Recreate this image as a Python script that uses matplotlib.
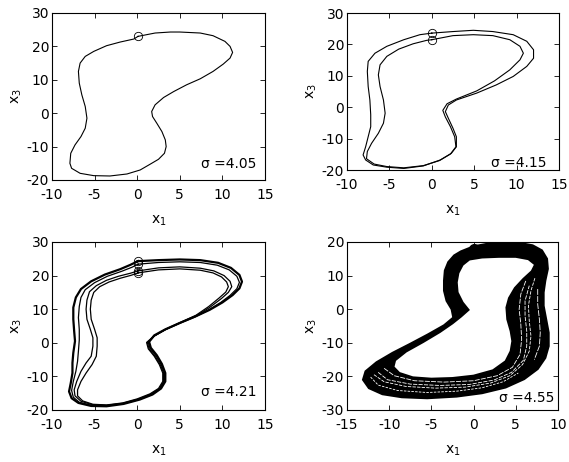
import numpy as np
import matplotlib as mpl
mpl.use('Agg')
import matplotlib.pyplot as plt
from matplotlib.path import Path
from matplotlib.patches import PathPatch

# sigma of the four runs
sigma_values = ['4.05', '4.15', '4.21', '4.55']

# closed orbits in the (x1, x3) plane, clockwise, first point = start marker
orbit_405 = np.array([
    (0.1, 23.0), (2.1, 24.0), (3.9, 24.3), (5.0, 24.3), (7.4, 24.0), (8.9, 23.2), (10.3, 21.5), (10.9, 20.0),
    (11.2, 18.2), (10.9, 16.5), (10.1, 14.7), (8.9, 12.5), (7.4, 10.3), (5.8, 8.5), (4.3, 6.5), (3.1, 4.7),
    (2.1, 2.5), (1.7, 0.5), (1.8, -1.0), (2.3, -3.0), (2.9, -5.5), (3.3, -8.0), (3.4, -10.0), (3.2, -12.0),
    (2.5, -13.8), (1.5, -15.3), (0.35, -17.0), (-1.2, -18.2), (-3.2, -18.8), (-5.1, -18.7), (-6.7, -18.0),
    (-7.7, -16.5), (-7.9, -15.0), (-7.8, -12.0), (-7.3, -9.5), (-6.6, -7.0), (-6.1, -4.5), (-5.9, -1.5),
    (-6.1, 2.0), (-6.5, 5.5), (-6.8, 9.0), (-6.9, 12.5), (-6.7, 15.0), (-6.1, 17.0), (-5.1, 18.5),
    (-3.6, 20.2), (-2.0, 21.3), (-0.4, 22.2), (0.1, 23.0)])

orbit_415_outer = np.array([
    (0.0, 23.6), (2.5, 24.1), (4.9, 24.5), (7.2, 24.1), (9.6, 23.1), (11.2, 21.0), (12.0, 18.3), (12.0, 15.6),
    (11.2, 13.0), (9.6, 9.8), (7.6, 7.1), (5.3, 4.5), (2.9, 2.3), (1.95, 0.7), (1.6, -1.4), (1.95, -3.5),
    (2.5, -6.7), (2.9, -9.4), (2.9, -12.6), (2.3, -14.7), (1.0, -16.8), (-1.0, -18.7), (-3.3, -19.5),
    (-5.3, -19.1), (-6.9, -18.4), (-7.8, -16.8), (-8.1, -15.2), (-7.8, -12.6), (-7.5, -9.4), (-7.2, -6.2),
    (-7.2, -2.4), (-7.3, 2.3), (-7.5, 6.6), (-7.6, 11.4), (-7.5, 14.6), (-6.7, 17.2), (-5.3, 19.4),
    (-3.3, 21.5), (-1.4, 23.1), (0.0, 23.6)])

orbit_415_inner = np.array([
    (0.0, 21.5), (2.5, 22.8), (4.9, 23.1), (7.2, 22.8), (9.2, 21.5), (10.4, 19.4), (10.8, 17.2), (10.4, 15.1),
    (9.2, 11.9), (7.4, 8.4), (5.3, 5.2), (2.9, 2.6), (1.8, 1.1), (1.3, -1.0), (1.6, -3.1), (2.2, -6.2),
    (2.7, -9.4), (2.85, -12.6), (2.2, -14.9), (0.9, -17.0), (-1.0, -18.6), (-3.3, -19.3), (-5.3, -18.9),
    (-6.8, -18.1), (-7.7, -16.4), (-7.6, -14.1), (-7.1, -11.5), (-6.3, -8.3), (-5.7, -5.1), (-5.5, -1.9),
    (-5.7, 2.3), (-6.1, 6.6), (-6.3, 10.3), (-6.1, 13.5), (-5.3, 16.2), (-3.9, 18.5), (-2.2, 20.2),
    (-0.6, 21.3), (0.0, 21.5)])

orbit_421_a = np.array([
    (0.1, 24.3), (2.5, 24.6), (5.0, 24.8), (7.4, 24.6), (9.5, 23.8), (11.0, 22.3), (12.0, 20.2), (12.3, 18.2),
    (12.0, 16.2), (11.2, 14.2), (10.0, 12.0), (8.5, 9.8), (6.8, 7.8), (5.0, 5.9), (3.3, 4.0), (2.0, 2.2),
    (1.4, 0.3), (1.6, -1.5), (2.3, -3.7), (2.9, -6.3), (3.3, -9.0), (3.3, -11.5), (2.8, -13.6), (1.8, -15.4),
    (0.3, -16.9), (-1.6, -18.2), (-3.6, -18.9), (-5.4, -18.8), (-6.9, -17.9), (-7.7, -16.5), (-8.0, -14.5),
    (-7.8, -12.0), (-7.6, -9.0), (-7.6, -6.0), (-7.5, -3.0), (-7.3, 0.5), (-7.4, 3.5), (-7.5, 7.0),
    (-7.5, 10.5), (-7.2, 13.5), (-6.6, 16.0), (-5.4, 18.3), (-3.8, 20.3), (-2.0, 21.9), (-0.8, 23.2),
    (0.1, 24.3)])

orbit_421_b = np.array([
    (0.1, 23.4), (2.5, 23.9), (5.0, 24.1), (7.4, 23.9), (9.4, 23.1), (10.8, 21.7), (11.7, 19.8), (12.0, 18.0),
    (11.7, 16.1), (10.9, 14.1), (9.8, 12.0), (8.4, 9.8), (6.8, 7.7), (5.0, 5.8), (3.3, 3.9), (2.0, 2.0),
    (1.3, 0.1), (1.5, -1.6), (2.2, -3.8), (2.8, -6.4), (3.2, -9.0), (3.2, -11.5), (2.7, -13.6), (1.7, -15.4),
    (0.2, -16.9), (-1.6, -18.1), (-3.6, -18.7), (-5.4, -18.6), (-6.8, -17.7), (-7.5, -16.2), (-7.7, -14.2),
    (-7.5, -11.5), (-7.2, -8.5), (-7.0, -5.5), (-6.9, -2.5), (-6.8, 0.8), (-6.8, 4.0), (-6.9, 7.5),
    (-6.8, 10.8), (-6.6, 13.5), (-6.1, 15.8), (-5.0, 17.9), (-3.5, 19.8), (-1.8, 21.3), (-0.6, 22.5),
    (0.1, 23.4)])

orbit_421_c = np.array([
    (0.1, 21.4), (2.5, 22.3), (5.0, 22.6), (7.4, 22.2), (9.0, 21.4), (10.2, 20.0), (10.9, 18.3), (11.1, 16.7),
    (10.7, 15.0), (9.9, 13.2), (8.5, 10.5), (6.9, 8.0), (5.0, 5.9), (3.3, 3.9), (2.0, 2.0), (1.2, 0.0),
    (1.4, -1.8), (2.1, -4.0), (2.7, -6.5), (3.1, -9.0), (3.1, -11.5), (2.6, -13.6), (1.6, -15.3), (0.1, -16.8),
    (-1.7, -18.0), (-3.6, -18.6), (-5.3, -18.4), (-6.6, -17.4), (-7.3, -15.8), (-7.4, -14.0), (-7.1, -11.5),
    (-6.6, -8.5), (-6.0, -6.0), (-5.4, -4.0), (-5.2, -1.0), (-5.2, 1.5), (-5.5, 4.0), (-5.9, 7.0),
    (-6.0, 10.0), (-5.9, 12.7), (-5.6, 15.2), (-4.8, 17.0), (-3.6, 18.6), (-2.2, 19.8), (-0.8, 20.7),
    (0.1, 21.4)])

orbit_421_d = np.array([
    (0.1, 20.8), (2.5, 21.7), (5.0, 22.0), (7.4, 21.6), (8.9, 20.8), (9.9, 19.6), (10.5, 18.1), (10.7, 16.7),
    (10.4, 15.1), (9.6, 13.3), (8.4, 10.8), (6.9, 8.2), (5.0, 6.0), (3.3, 4.0), (2.0, 2.1), (1.1, 0.1),
    (1.3, -1.8), (2.0, -4.0), (2.6, -6.5), (3.0, -9.0), (3.0, -11.5), (2.5, -13.6), (1.5, -15.2), (0.0, -16.7),
    (-1.7, -17.9), (-3.6, -18.5), (-5.2, -18.3), (-6.4, -17.3), (-7.0, -15.8), (-7.0, -14.0), (-6.6, -11.5),
    (-6.0, -9.0), (-5.3, -6.5), (-4.8, -4.0), (-4.7, -1.0), (-4.7, 1.5), (-5.0, 4.0), (-5.4, 7.0),
    (-5.5, 10.0), (-5.4, 12.7), (-5.1, 15.0), (-4.4, 16.7), (-3.3, 18.1), (-2.0, 19.2), (-0.7, 20.1),
    (0.1, 20.8)])

# sigma = 4.55: outer and inner edge of the chaotic band, plus the thin gaps inside it
band_455_outer = np.array([
    (-1.5, 17.2), (0.0, 18.7), (1.5, 19.4), (3.5, 19.8), (5.5, 19.7), (7.0, 19.0), (8.1, 17.5), (8.7, 15.0),
    (8.8, 12.0), (8.5, 8.5), (8.3, 5.0), (8.3, 1.0), (8.6, -3.0), (8.9, -7.0), (8.9, -11.0), (8.5, -14.5),
    (7.6, -17.8), (6.0, -20.8), (3.8, -23.3), (1.0, -25.0), (-2.0, -26.0), (-5.5, -26.5), (-8.5, -26.2),
    (-10.8, -25.3), (-12.4, -23.5), (-13.1, -21.0), (-12.8, -18.5), (-11.5, -15.8), (-9.6, -13.0),
    (-7.5, -10.3), (-5.4, -7.5), (-3.5, -4.8), (-2.4, -2.5), (-2.6, 0.0), (-3.2, 2.5), (-3.5, 5.5),
    (-3.5, 8.5), (-3.4, 11.5), (-3.0, 14.0), (-2.3, 16.0), (-1.5, 17.2)])

band_455_inner = np.array([
    (-0.5, 14.8), (1.0, 15.4), (3.0, 15.6), (5.0, 15.6), (6.5, 14.9), (7.3, 13.3), (6.9, 11.3), (5.9, 9.0),
    (4.9, 6.3), (4.2, 3.3), (3.9, 0.5), (4.0, -3.0), (4.4, -6.5), (4.6, -9.5), (4.4, -12.5), (3.8, -15.5),
    (2.3, -18.2), (0.0, -19.8), (-2.5, -20.5), (-5.0, -20.7), (-7.2, -20.3), (-8.8, -19.0), (-9.5, -17.2),
    (-9.3, -15.2), (-8.0, -12.6), (-6.0, -9.8), (-4.0, -6.8), (-2.5, -4.2), (-1.5, -2.2), (-0.6, -0.2),
    (-1.3, 2.0), (-1.9, 5.0), (-2.0, 8.0), (-1.8, 10.8), (-1.3, 13.2), (-0.5, 14.8)])

gaps_455 = [
    np.array([(-12.2, -20.2), (-11.3, -22.6), (-9.0, -24.2), (-5.5, -24.8), (-2.0, -24.4), (1.0, -23.4),
              (3.5, -21.6), (5.3, -19.0)]),
    np.array([(-11.8, -19.5), (-10.6, -21.6), (-8.0, -23.0), (-4.5, -23.5), (-1.0, -23.2), (2.0, -22.0),
              (4.3, -19.8), (5.8, -16.5), (6.6, -12.5), (6.8, -8.0), (6.6, -3.5), (6.5, 1.0), (6.8, 5.5),
              (7.3, 9.5)]),
    np.array([(-11.3, -18.8), (-10.2, -21.0), (-7.5, -22.3), (-4.0, -22.7), (-0.5, -22.4), (2.4, -21.1),
              (4.5, -18.8), (5.9, -15.2), (6.3, -11.0), (6.3, -6.5), (6.1, -2.0), (6.1, 2.5), (6.6, 7.0)]),
    np.array([(-10.6, -17.6), (-9.4, -19.8), (-7.0, -21.3), (-3.5, -21.7), (0.0, -21.3), (2.8, -19.8),
              (4.6, -17.3), (5.5, -13.5), (5.7, -9.0), (5.6, -4.5), (5.4, 0.0), (5.6, 4.5), (6.2, 8.5)]),
    np.array([(7.6, 6.0), (7.6, 1.5), (7.8, -3.0), (7.9, -7.0), (7.8, -11.0), (7.2, -15.0)]),
]
start_455 = np.array([(0.0, 17.0), (0.0, 18.0)])


def SetMPLproperties():
    mpl.rcParams['font.family'] = ['DejaVu Sans']
    mpl.rcParams['font.size'] = 10
    mpl.rcParams['axes.unicode_minus'] = False
    mpl.rcParams['axes.linewidth'] = 0.8
    for ax in ['xtick', 'ytick']:
        mpl.rcParams[ax + '.direction'] = 'in'
        mpl.rcParams[ax + '.major.size'] = 3.5
        mpl.rcParams[ax + '.major.width'] = 0.6
    mpl.rcParams['xtick.top'] = True
    mpl.rcParams['ytick.right'] = True
    mpl.rcParams['xtick.major.pad'] = 6
    mpl.rcParams['ytick.major.pad'] = 2


def FormatAxes(ax, xlim, ylim, sigma, text_pos):
    ax.set_xlim(xlim)
    ax.set_ylim(ylim)
    ax.set_xticks(np.arange(xlim[0], xlim[1] + 1, 5))
    ax.set_yticks(np.arange(ylim[0], ylim[1] + 1, 10))
    ax.set_xlabel(r'$\mathregular{x_1}$', labelpad=8)
    ax.set_ylabel(r'$\mathregular{x_3}$', labelpad=2)
    ax.text(text_pos[0], text_pos[1], '\u03c3 =' + sigma, transform=ax.transAxes,
            va='baseline', ha='left', fontsize=10)


def PlotOrbits(ax, orbits, widths):
    for orb, lw in zip(orbits, widths):
        ax.plot(orb[:, 0], orb[:, 1], color='k', linewidth=lw)
        ax.plot(orb[0, 0], orb[0, 1], 'o', markersize=6, markerfacecolor='none',
                markeredgecolor='k', markeredgewidth=0.6)


SetMPLproperties()
fig = plt.figure(figsize=(5.69, 4.62), dpi=100)
ax1 = fig.add_axes([0.0914, 0.6104, 0.3743, 0.3615])
ax2 = fig.add_axes([0.6098, 0.6320, 0.3726, 0.3398])
ax3 = fig.add_axes([0.0914, 0.1126, 0.3743, 0.3636])
ax4 = fig.add_axes([0.6098, 0.1126, 0.3708, 0.3636])

PlotOrbits(ax1, [orbit_405], [0.8])
FormatAxes(ax1, (-10, 15), (-20, 30), sigma_values[0], (0.70, 0.072))

PlotOrbits(ax2, [orbit_415_outer, orbit_415_inner], [0.8, 0.8])
FormatAxes(ax2, (-10, 15), (-20, 30), sigma_values[1], (0.68, 0.021))

PlotOrbits(ax3, [orbit_421_a, orbit_421_b, orbit_421_c, orbit_421_d], [1.6, 0.9, 0.9, 0.9])
FormatAxes(ax3, (-10, 15), (-20, 30), sigma_values[2], (0.70, 0.085))

# band = outer edge clockwise + inner edge reversed -> hole in the middle
verts = np.vstack([band_455_outer, band_455_inner[::-1]])
codes = ([Path.MOVETO] + [Path.LINETO] * (len(band_455_outer) - 2) + [Path.CLOSEPOLY] +
         [Path.MOVETO] + [Path.LINETO] * (len(band_455_inner) - 2) + [Path.CLOSEPOLY])
ax4.add_patch(PathPatch(Path(verts, codes), facecolor='k', edgecolor='k', linewidth=1.5))
for k, g in enumerate(gaps_455):
    ax4.plot(g[:, 0], g[:, 1], color='w', linewidth=0.6, dashes=(3 + k, 1.5))
ax4.plot(start_455[:, 0], start_455[:, 1], 'o', markersize=7, color='k')
FormatAxes(ax4, (-15, 10), (-30, 20), sigma_values[3], (0.72, 0.05))

fig.savefig('out.png', dpi=100)
